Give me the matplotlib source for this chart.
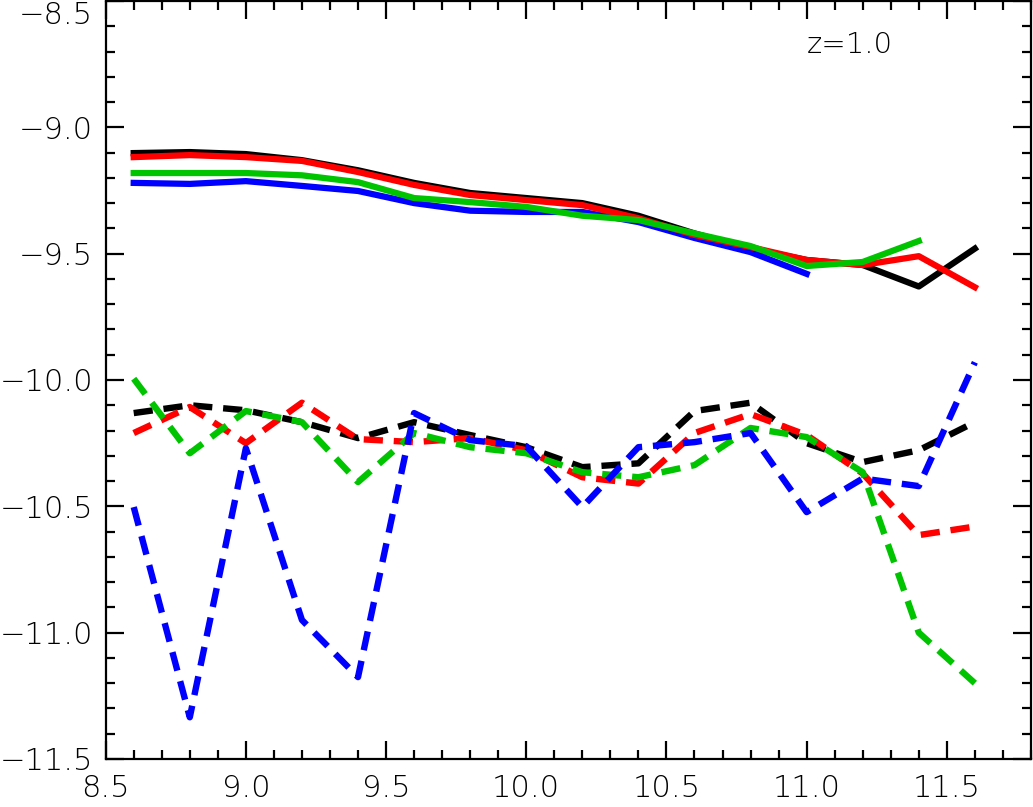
import matplotlib
matplotlib.use('Agg')
import matplotlib.pyplot as plt
from matplotlib.ticker import MultipleLocator, FuncFormatter

plt.rcParams['font.family'] = ['DejaVu Sans']

mass = [8.6, 8.8, 9.0, 9.2, 9.4, 9.6, 9.8, 10.0, 10.2, 10.4, 10.6, 10.8, 11.0, 11.2, 11.4, 11.6]

# solid curves
black_solid = [-9.102, -9.098, -9.106, -9.13, -9.17, -9.22, -9.26, -9.28, -9.30, -9.35, -9.42, -9.48, -9.525, -9.545, -9.63, -9.48]
red_solid = [-9.118, -9.11, -9.118, -9.133, -9.177, -9.228, -9.268, -9.288, -9.308, -9.36, -9.426, -9.474, -9.525, -9.545, -9.51, -9.633]
green_solid = [-9.181, -9.181, -9.181, -9.19, -9.217, -9.28, -9.296, -9.315, -9.35, -9.367, -9.42, -9.47, -9.549, -9.533, -9.45]
blue_solid = [-9.22, -9.224, -9.213, -9.232, -9.252, -9.30, -9.33, -9.335, -9.335, -9.375, -9.438, -9.494, -9.58]

# dashed curves
black_dash = [-10.131, -10.10, -10.12, -10.167, -10.23, -10.167, -10.218, -10.266, -10.345, -10.33, -10.123, -10.09, -10.25, -10.325, -10.278, -10.167]
red_dash = [-10.21, -10.107, -10.25, -10.09, -10.234, -10.246, -10.23, -10.278, -10.385, -10.41, -10.21, -10.135, -10.218, -10.37, -10.614, -10.58]
green_dash = [-9.995, -10.29, -10.123, -10.167, -10.404, -10.21, -10.266, -10.29, -10.365, -10.385, -10.337, -10.19, -10.226, -10.365, -11.0, -11.2]
blue_dash = [-10.503, -11.335, -10.27, -10.95, -11.176, -10.131, -10.238, -10.262, -10.503, -10.266, -10.246, -10.21, -10.523, -10.39, -10.42, -9.93]

green = '#00c400'

fig = plt.figure(figsize=(10.33, 8.07), dpi=100)
ax = fig.add_axes([0.1023, 0.0595, 0.8957, 0.9393])

lw = 4.5
ax.plot(mass[:len(black_solid)], black_solid, color='black', lw=lw)
ax.plot(mass[:len(blue_solid)], blue_solid, color='blue', lw=lw)
ax.plot(mass[:len(red_solid)], red_solid, color='red', lw=lw)
ax.plot(mass[:len(green_solid)], green_solid, color=green, lw=lw)

dlw = 4.6
ax.plot(mass, black_dash, color='black', lw=dlw, dashes=(3, 1.7))
ax.plot(mass, red_dash, color='red', lw=dlw, dashes=(3, 1.7))
ax.plot(mass, green_dash, color=green, lw=dlw, dashes=(3, 1.7))
ax.plot(mass, blue_dash, color='blue', lw=dlw, dashes=(3, 1.7))

ax.text(11.0, -8.675, 'z=1.0', fontsize=21, fontweight='light', ha='left', va='center')

ax.set_xlim(8.5, 11.8)
ax.set_ylim(-11.5, -8.5)
ax.xaxis.set_major_locator(MultipleLocator(0.5))
ax.xaxis.set_minor_locator(MultipleLocator(0.1))
ax.yaxis.set_major_locator(MultipleLocator(0.5))
ax.yaxis.set_minor_locator(MultipleLocator(0.1))
fmt = FuncFormatter(lambda v, p: ('%.1f' % v).replace('-', '\u2212'))
ax.xaxis.set_major_formatter(fmt)
ax.yaxis.set_major_formatter(fmt)

ax.tick_params(which='both', direction='in', top=True, right=True, width=1.6, labelsize=22)
ax.tick_params(which='major', length=13)
ax.tick_params(axis='x', which='major', pad=11)
ax.tick_params(axis='y', which='major', pad=9)
ax.tick_params(which='minor', length=6.5)
for s in ax.spines.values():
    s.set_linewidth(1.6)

fig.canvas.draw()
for t in ax.get_xticklabels() + ax.get_yticklabels():
    t.set_fontweight('light')
for t in ax.get_yticklabels():
    if t.get_text() == '\u22128.5':
        t.set_verticalalignment('top')

fig.savefig('out.png', dpi=100)
